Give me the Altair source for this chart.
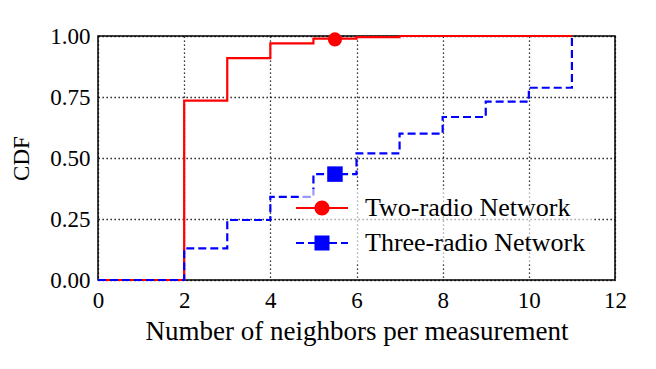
import altair as alt
import pandas as pd

# ---- data ----
two_x = [0, 2, 3, 4, 5, 6, 7, 11]
two_y = [0.0, 0.735, 0.909, 0.970, 0.989, 0.995, 1.0, 1.0]
three_x = [0, 2, 3, 4, 5, 6, 7, 8, 9, 10, 11]
three_y = [0.0, 0.13, 0.246, 0.341, 0.434, 0.519, 0.600, 0.668, 0.731, 0.788, 1.0]
series = ["Two-radio Network", "Three-radio Network"]
marker_x = [5.5, 5.5]
marker_y = [0.986, 0.434]
x_ticks = [0, 2, 4, 6, 8, 10, 12]
y_ticks = [0.0, 0.25, 0.5, 0.75, 1.0]

FONT = "Liberation Serif"
RED = "#ff0000"
BLUE = "#0000ff"

two_df = pd.DataFrame({"x": two_x, "y": two_y})
three_df = pd.DataFrame({"x": three_x, "y": three_y})
mark_df = pd.DataFrame({"x": marker_x, "y": marker_y, "series": series})

xs = alt.Scale(domain=[0, 12], nice=False, zero=False)
ys = alt.Scale(domain=[0, 1], nice=False, zero=False)

grid_kw = dict(grid=True, gridColor="black", gridDash=[1.3, 2.7], gridWidth=1.3, gridOpacity=1,
               ticks=False, domain=False, labelFlush=False)
xax = alt.Axis(values=x_ticks, format="d", title="Number of neighbors per measurement",
               labelPadding=9, titlePadding=6, titleFontSize=27, **grid_kw)
yax = alt.Axis(values=y_ticks, format=".2f", title="CDF",
               labelPadding=8, titlePadding=16, titleFontSize=23, **grid_kw)

base_x = alt.X("x:Q", scale=xs, axis=xax)
base_y = alt.Y("y:Q", scale=ys, axis=yax)

line_two = alt.Chart(two_df).mark_line(
    interpolate="step-after", color=RED, strokeWidth=2.2
).encode(x=base_x, y=base_y)

line_three = alt.Chart(three_df).mark_line(
    interpolate="step-after", color=BLUE, strokeWidth=2.2, strokeDash=[8, 4]
).encode(x=alt.X("x:Q", scale=xs), y=alt.Y("y:Q", scale=ys))

mk_two = alt.Chart(mark_df).transform_filter(alt.datum.series == series[0]).mark_point(
    shape="circle", filled=True, size=200, color=RED, opacity=1
).encode(x=alt.X("x:Q", scale=xs), y=alt.Y("y:Q", scale=ys))

mk_three = alt.Chart(mark_df).transform_filter(alt.datum.series == series[1]).mark_point(
    shape="square", filled=True, size=240, color=BLUE, opacity=1
).encode(x=alt.X("x:Q", scale=xs), y=alt.Y("y:Q", scale=ys))

# legend symbols: filled shapes only (line drawn as thin rectangles), unit = 10 px
circle_path = ("M-2.6,-0.11H2.6V0.11H-2.6Z"
               "M-0.75,0A0.75,0.75,0,1,1,0.75,0A0.75,0.75,0,1,1,-0.75,0Z")
square_path = ("M-2.6,-0.11H-1.8V0.11H-2.6Z"
               "M-1.4,-0.11H-0.7V0.11H-1.4Z"
               "M-0.75,-0.75H0.75V0.75H-0.75Z"
               "M0.7,-0.11H1.5V0.11H0.7Z"
               "M1.9,-0.11H2.6V0.11H1.9Z")

legend = alt.Legend(
    title=None, orient="none", legendX=205, legendY=153,
    labelFont=FONT, labelFontSize=26, labelColor="black", labelLimit=400,
    labelOffset=30, rowPadding=9, padding=6,
    fillColor="rgba(255,255,255,0.6)",
    symbolStrokeWidth=0, symbolSize=400,
)

legend_layer = alt.Chart(mark_df).transform_filter(alt.datum.x < -100).mark_point(
    filled=True, size=400, strokeWidth=0, opacity=1
).encode(
    x=alt.X("x:Q", scale=xs), y=alt.Y("y:Q", scale=ys),
    shape=alt.Shape("series:N", scale=alt.Scale(domain=series, range=[circle_path, square_path]), legend=legend),
    fill=alt.Fill("series:N", scale=alt.Scale(domain=series, range=[RED, BLUE]), legend=legend),
)

chart = alt.layer(line_two, line_three, mk_two, mk_three, legend_layer).properties(
    width=517, height=244,
    autosize=alt.AutoSizeParams(type="none"),
    padding={"left": 90, "top": 28, "right": 33, "bottom": 80},
).configure_view(
    stroke="black", strokeWidth=1.5
).configure_axis(
    labelFont=FONT, labelFontSize=23, labelColor="black",
    titleFont=FONT, titleFontWeight="normal", titleColor="black",
)

chart.save("out.html", embed_options={"renderer": "svg", "actions": False})
